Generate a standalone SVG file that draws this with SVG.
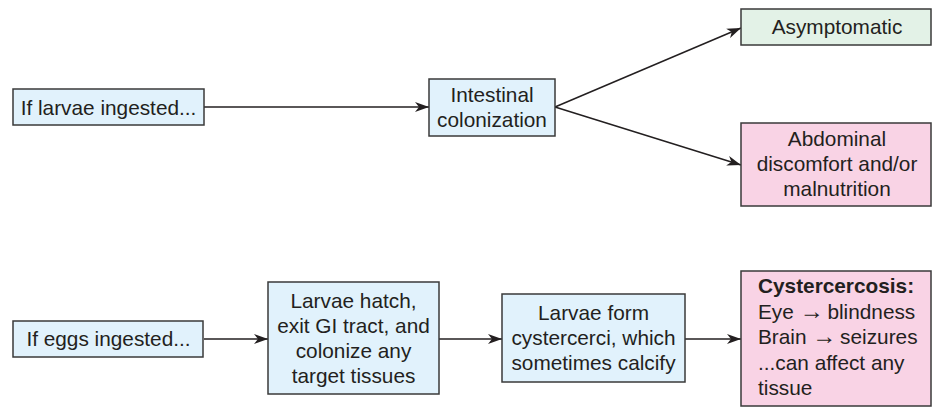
<svg xmlns="http://www.w3.org/2000/svg" width="933" height="408" viewBox="0 0 933 408">
<style>
  .box { stroke: #3a3a3a; stroke-width: 1.5; }
  .blue { fill: #e1f2fc; }
  .green { fill: #e3f2e7; }
  .pink { fill: #f9d3e5; }
  text { font-family: "Liberation Sans", Arial, Helvetica, sans-serif; font-size: 20.8px; fill: #231f20; }
  .c { text-anchor: middle; }
  .b { font-weight: bold; }
  .arr { font-family: "Liberation Serif", "DejaVu Serif", serif; font-size: 24px; letter-spacing: -2px; }
  .conn { stroke: #231f20; stroke-width: 1.5; fill: none; marker-end: url(#ah); }
</style>
<defs>
  <marker id="ah" markerUnits="userSpaceOnUse" markerWidth="15" markerHeight="11" refX="14" refY="5.5" orient="auto">
    <path d="M0,0.5 L14,5.5 L0,10.5 L4,5.5 z" fill="#231f20"/>
  </marker>
</defs>
<rect width="933" height="408" fill="#ffffff"/>
<g id="connectors">
  <line class="conn" x1="204" y1="107" x2="429" y2="107"/>
  <line class="conn" x1="555" y1="107" x2="741" y2="28"/>
  <line class="conn" x1="555" y1="107" x2="741" y2="165"/>
  <line class="conn" x1="204" y1="339" x2="268" y2="339"/>
  <line class="conn" x1="439" y1="339" x2="502" y2="339"/>
  <line class="conn" x1="685" y1="339" x2="741" y2="339"/>
</g>
<g id="larvae-ingested">
  <rect class="box blue" x="13" y="89" width="191" height="36"/>
  <text class="c" x="108.5" y="114.5">If larvae ingested...</text>
</g>
<g id="intestinal-colonization">
  <rect class="box blue" x="429" y="79" width="126" height="57"/>
  <text class="c" x="492" y="102">Intestinal</text>
  <text class="c" x="492" y="127">colonization</text>
</g>
<g id="asymptomatic">
  <rect class="box green" x="741" y="9" width="190" height="36"/>
  <text class="c" x="837" y="34">Asymptomatic</text>
</g>
<g id="abdominal">
  <rect class="box pink" x="741" y="123" width="190" height="83"/>
  <text class="c" x="837" y="146">Abdominal</text>
  <text class="c" x="837" y="171">discomfort and/or</text>
  <text class="c" x="837" y="196">malnutrition</text>
</g>
<g id="eggs-ingested">
  <rect class="box blue" x="13" y="321" width="190" height="36"/>
  <text class="c" x="108.5" y="346">If eggs ingested...</text>
</g>
<g id="larvae-hatch">
  <rect class="box blue" x="268" y="282" width="171" height="112"/>
  <text class="c" x="353.5" y="308">Larvae hatch,</text>
  <text class="c" x="353.5" y="333">exit GI tract, and</text>
  <text class="c" x="353.5" y="358">colonize any</text>
  <text class="c" x="353.5" y="383">target tissues</text>
</g>
<g id="larvae-form">
  <rect class="box blue" x="502" y="294" width="183" height="88"/>
  <text class="c" x="593.5" y="320">Larvae form</text>
  <text class="c" x="593.5" y="345">cystercerci, which</text>
  <text class="c" x="593.5" y="370">sometimes calcify</text>
</g>
<g id="cystercercosis">
  <rect class="box pink" x="741" y="271" width="190" height="135"/>
  <text class="b" x="758" y="293">Cystercercosis:</text>
  <text x="758" y="319">Eye <tspan class="arr">→</tspan> blindness</text>
  <text x="758" y="344">Brain <tspan class="arr">→</tspan> seizures</text>
  <text x="758" y="370">...can affect any</text>
  <text x="758" y="395">tissue</text>
</g>
</svg>
